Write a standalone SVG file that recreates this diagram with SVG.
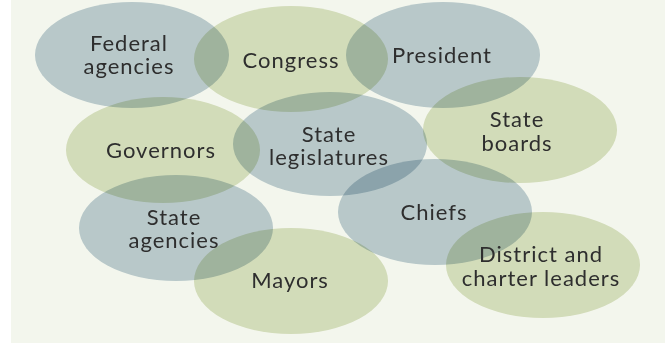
<svg xmlns="http://www.w3.org/2000/svg" width="669" height="343" viewBox="0 0 669 343">
<style>
.b{fill:#c1d0d9;mix-blend-mode:multiply}
.g{fill:#dde4c7;mix-blend-mode:multiply}
text{font-family:Lato,"Open Sans","Liberation Sans",sans-serif;font-size:22px;letter-spacing:1px;fill:#2e2e2e;text-anchor:middle}
</style>
<rect x="0" y="0" width="669" height="343" fill="#ffffff"/>
<rect x="11" y="0" width="654" height="343" fill="#f3f6ed"/>
<g id="federal"><ellipse class="b" cx="132" cy="55" rx="97" ry="53"/><text x="129" y="51">Federal</text><text x="129" y="74">agencies</text></g>
<g id="congress"><ellipse class="g" cx="291" cy="59" rx="97" ry="53"/><text x="291" y="68">Congress</text></g>
<g id="president"><ellipse class="b" cx="443" cy="55" rx="97" ry="53"/><text x="442" y="63">President</text></g>
<g id="stateboards"><ellipse class="g" cx="520" cy="130" rx="97" ry="53"/><text x="517" y="127">State</text><text x="517" y="151">boards</text></g>
<g id="governors"><ellipse class="g" cx="163" cy="150" rx="97" ry="53"/><text x="161" y="158">Governors</text></g>
<g id="statelegislatures"><ellipse class="b" cx="330" cy="144" rx="97" ry="52"/><text x="329" y="142">State</text><text x="329" y="165">legislatures</text></g>
<g id="stateagencies"><ellipse class="b" cx="176" cy="228" rx="97" ry="53"/><text x="174" y="225">State</text><text x="174" y="248">agencies</text></g>
<g id="mayors"><ellipse class="g" cx="291" cy="281" rx="97" ry="53"/><text x="290" y="288">Mayors</text></g>
<g id="chiefs"><ellipse class="b" cx="435" cy="212" rx="97" ry="53"/><text x="434" y="220">Chiefs</text></g>
<g id="district"><ellipse class="g" cx="543" cy="265" rx="97" ry="53"/><text x="541" y="262">District and</text><text x="541" y="286">charter leaders</text></g>
<g id="connectors"></g>
</svg>
